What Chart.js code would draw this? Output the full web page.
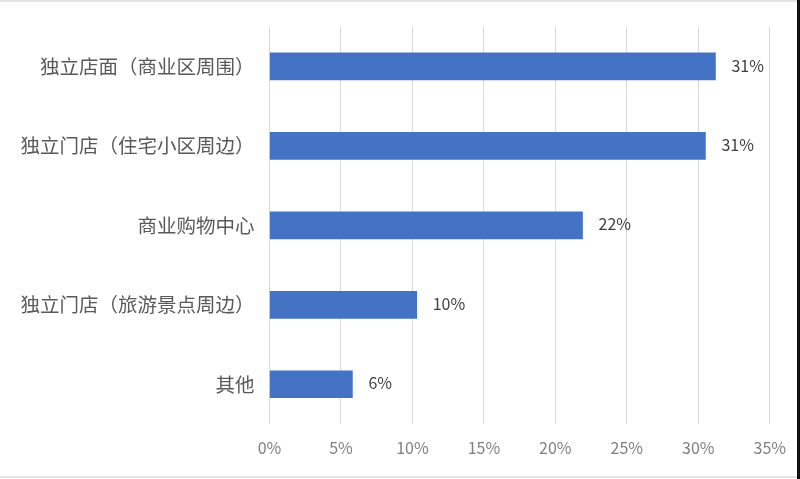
<!DOCTYPE html>
<html>
<head>
<meta charset="utf-8">
<script src="https://cdn.jsdelivr.net/npm/chart.js@4/dist/chart.umd.min.js"></script>
<style>
  html, body { margin: 0; padding: 0; background: #fff; }
  #wrap { position: relative; width: 800px; height: 479px; }
  #c { position: absolute; left: 0; top: 0; }
  .edge { position: absolute; }
</style>
</head>
<body>
<div id="wrap">
  <canvas id="c" width="800" height="479"></canvas>
  <div class="edge" style="left:0;top:0;width:800px;height:2px;background:#e4e4e4"></div>
  <div class="edge" style="left:0;top:476px;width:800px;height:2px;background:#e4e4e4"></div>
  <div class="edge" style="left:797px;top:0;width:3px;height:479px;background:#111"></div>
</div>
<script>
const categories = ['独立店面（商业区周围）', '独立门店（住宅小区周边）', '商业购物中心', '独立门店（旅游景点周边）', '其他'];
const shares = [31.2, 30.5, 21.9, 10.3, 5.8];
const tickValues = [0, 5, 10, 15, 20, 25, 30, 35];

const FONT = '"Noto Sans CJK SC", "Noto Sans", sans-serif';

const valueLabels = {
  id: 'valueLabels',
  afterDatasetsDraw(chart) {
    const ctx = chart.ctx;
    const meta = chart.getDatasetMeta(0);
    ctx.save();
    ctx.font = '16px ' + FONT;
    ctx.fillStyle = '#404040';
    ctx.textAlign = 'left';
    ctx.textBaseline = 'middle';
    meta.data.forEach((bar, i) => {
      ctx.fillText(Math.round(shares[i]) + '%', bar.x + 16, bar.y - 1);
    });
    ctx.restore();
  }
};

new Chart(document.getElementById('c'), {
  type: 'bar',
  data: {
    labels: categories,
    datasets: [{
      data: shares,
      backgroundColor: '#4472C4',
      borderWidth: 0,
      barThickness: 27
    }]
  },
  options: {
    indexAxis: 'y',
    responsive: false,
    animation: false,
    devicePixelRatio: 1,
    layout: { padding: { top: 13, right: 30, left: 0, bottom: 0 } },
    plugins: { legend: { display: false }, tooltip: { enabled: false } },
    scales: {
      x: {
        min: 0,
        max: 35,
        afterBuildTicks(scale) { scale.ticks = tickValues.map(v => ({ value: v })); },
        afterFit(scale) { scale.height = 55; },
        grid: { color: '#d9d9d9', lineWidth: 1, drawTicks: false },
        border: { display: false },
        ticks: {
          padding: 14,
          color: '#7f7f7f',
          font: { size: 16, family: FONT },
          callback: v => v + '%'
        }
      },
      y: {
        afterFit(scale) { scale.width = 269.5; },
        grid: { display: false, drawTicks: false },
        border: { display: false },
        ticks: {
          padding: 15,
          color: '#595959',
          font: { size: 19.5, family: FONT }
        }
      }
    }
  },
  plugins: [valueLabels]
});
</script>
</body>
</html>
